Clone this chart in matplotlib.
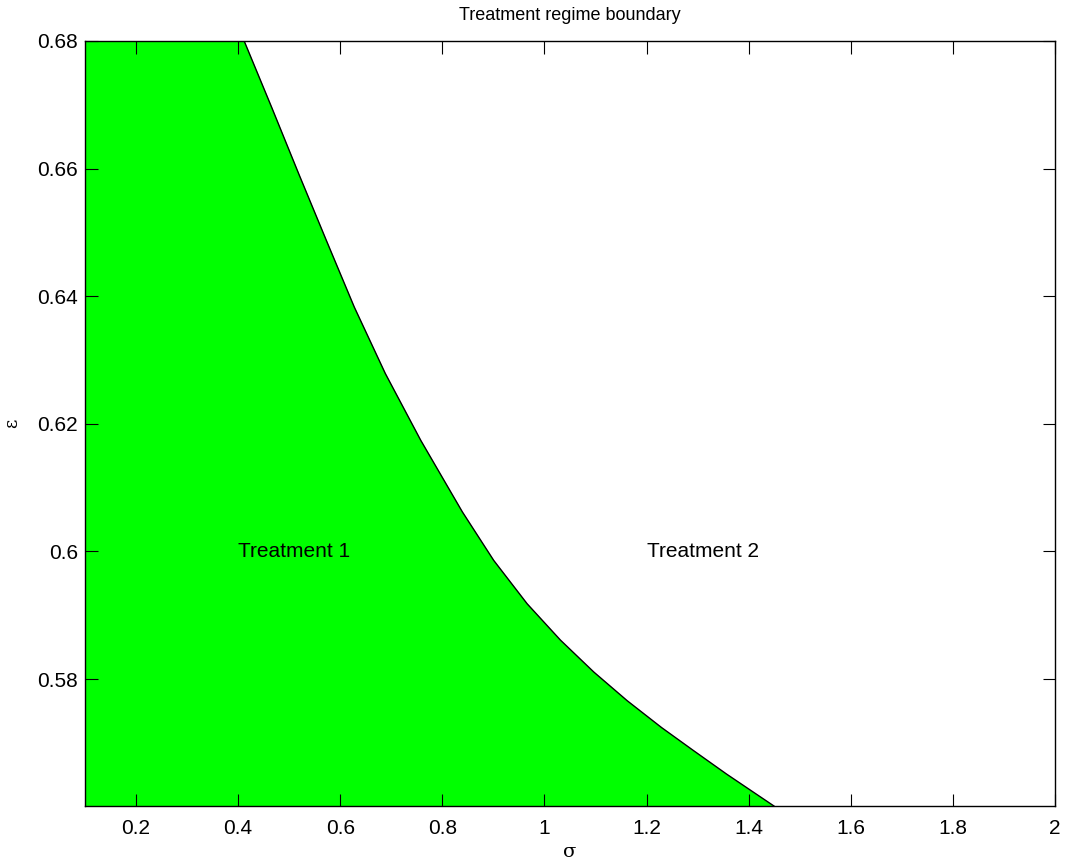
import matplotlib
matplotlib.use("Agg")
import matplotlib.pyplot as plt
from matplotlib.ticker import FuncFormatter

# boundary between the two regimes
sigma = [0.4118, 0.4657, 0.5186, 0.5725, 0.6275, 0.6882, 0.7578, 0.8392, 0.9006,
         0.9661, 1.0314, 1.0967, 1.1622, 1.2294, 1.2918, 1.3569, 1.4496]
eps = [0.6800, 0.6696, 0.6592, 0.6488, 0.6383, 0.6279, 0.6174, 0.6062, 0.5986,
       0.5918, 0.5861, 0.5811, 0.5766, 0.5724, 0.5688, 0.5651, 0.5601]

x_min, x_max = 0.1, 2.0
y_min, y_max = 0.5601, 0.68
xticks = [0.2, 0.4, 0.6, 0.8, 1.0, 1.2, 1.4, 1.6, 1.8, 2.0]
yticks = [0.58, 0.60, 0.62, 0.64, 0.66, 0.68]

plt.rcParams["font.family"] = ["Liberation Sans", "DejaVu Sans"]

fig = plt.figure(figsize=(10.65, 8.63), dpi=100)
ax = fig.add_axes([0.0798, 0.066, 0.9108, 0.8865])

ax.fill_betweenx(eps, x_min, sigma, color="#00ff00", linewidth=0)
ax.plot(sigma, eps, color="black", lw=1)

ax.text(0.4, 0.6, "Treatment 1", fontsize=15, ha="left", va="center")
ax.text(1.2, 0.6, "Treatment 2", fontsize=15, ha="left", va="center")

ax.set_xlim(x_min, x_max)
ax.set_ylim(y_min, y_max)
ax.set_xticks(xticks)
ax.set_yticks(yticks)
fmt = FuncFormatter(lambda v, p: f"{v:g}")
ax.xaxis.set_major_formatter(fmt)
ax.yaxis.set_major_formatter(fmt)
ax.tick_params(direction="in", length=9, width=0.8, top=True, right=True,
               labelsize=15)
ax.tick_params(axis="x", pad=9)
ax.tick_params(axis="y", pad=5)
for s in ax.spines.values():
    s.set_linewidth(1)

ax.set_title("Treatment regime boundary", fontsize=13, pad=15)
ax.set_xlabel("σ", fontsize=14, family="DejaVu Serif", labelpad=4)
ax.set_ylabel("ε", fontsize=13, family="DejaVu Serif", labelpad=12)

fig.savefig("out.png", dpi=100)
